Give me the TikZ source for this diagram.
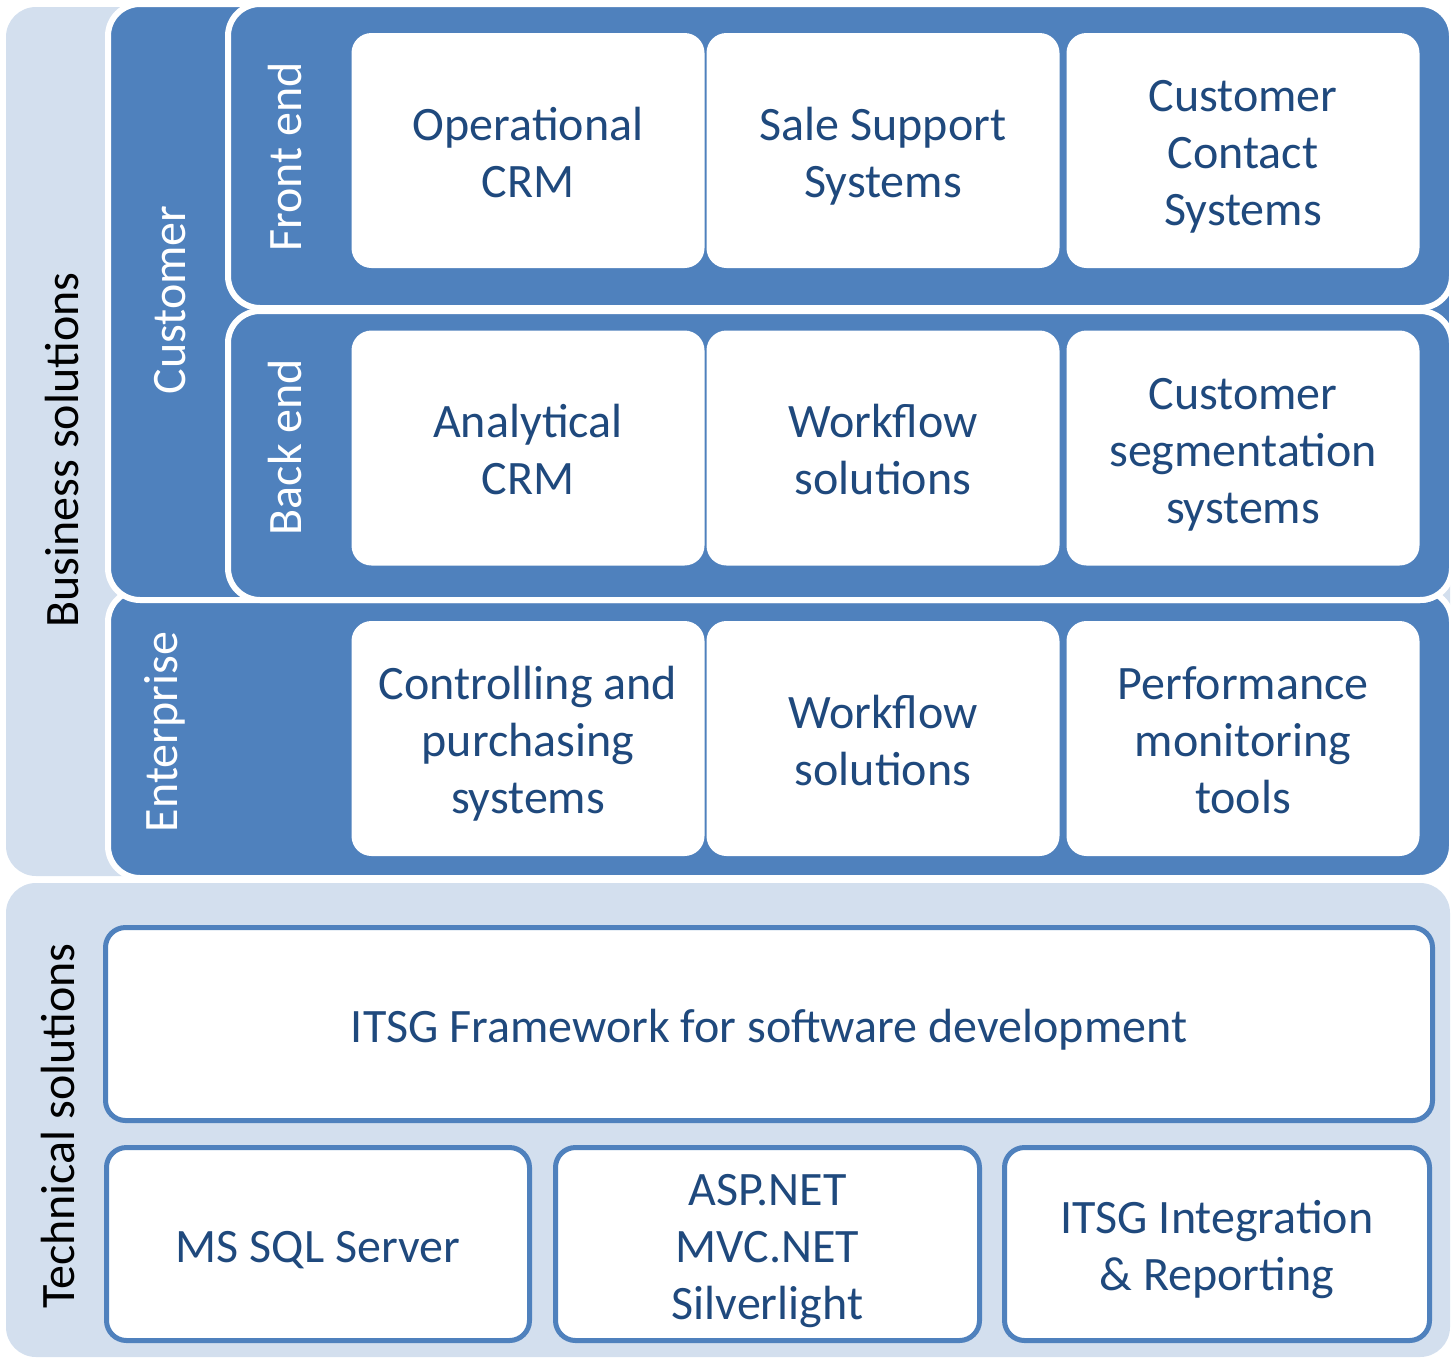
\documentclass[tikz,border=0pt]{standalone}
\usepackage{fontspec}
\setmainfont{Carlito}
\definecolor{pblue}{HTML}{4F81BD}
\definecolor{plight}{HTML}{D3DFEE}
\definecolor{tblue}{HTML}{1F497D}

\begin{document}
\begin{tikzpicture}[x=0.5pt, y=-0.5pt,
  big/.style={font=\fontsize{24pt}{28.5pt}\selectfont},
  back/.style={fill=plight, rounded corners=15pt},
  panel/.style={fill=pblue, draw=white, line width=3pt, rounded corners=16pt},
  cell/.style={fill=white, rounded corners=10pt,
    minimum width=176.5pt, minimum height=117.5pt,
    label={[big, align=center, text=tblue, yshift=-3.5pt]center:{\strut#1\strut}}},
  tech/.style={cell={#1}, draw=pblue, line width=2.5pt, minimum height=96.5pt},
  side/.style={big, rotate=90}]
\useasboundingbox (0,0) rectangle (1456,1360);
\fill[back] (6,7) rectangle (1450,876);
\fill[back] (6,883) rectangle (1450,1357);
\draw[panel] (108,590) rectangle (1452,878);
\draw[panel] (108,4) rectangle (1452,600);
\draw[panel] (228,311) rectangle (1452,600);
\draw[panel] (228,4) rectangle (1452,308);
\node[side] (nbs) at (62,450) {Business solutions};
\node[side] (nts) at (58,1126) {Technical solutions};
\node[side, text=white] (ncu) at (170,300) {Customer};
\node[side, text=white] (nfe) at (285,157) {Front end};
\node[side, text=white] (nbe) at (285,447) {Back end};
\node[side, text=white] (nen) at (165,732) {Enterprise};
\node[cell={Operational\\CRM}] (nop) at (528,150.5) {};
\node[cell={Sale Support\\Systems}] (nss) at (883,150.5) {};
\node[cell={Customer\\Contact\\Systems}] (ncc) at (1243,150.5) {};
\node[cell={Analytical\\CRM}] (nan) at (528,448) {};
\node[cell={Workflow\\solutions}] (nwf) at (883,448) {};
\node[cell={Customer\\segmentation\\systems}] (nsg) at (1243,448) {};
\node[cell={Controlling and\\purchasing\\systems}] (ncp) at (528,738.5) {};
\node[cell={Workflow\\solutions}] (nwe) at (883,738.5) {};
\node[cell={Performance\\monitoring\\tools}] (npm) at (1243,738.5) {};
\node[tech={ITSG Framework for software development}, minimum width=663.5pt] (nfw) at (769,1024) {};
\node[tech={MS SQL Server}, minimum width=211.5pt] (nsq) at (318,1244) {};
\node[tech={ASP.NET\\MVC.NET\\Silverlight}, minimum width=212pt] (nas) at (767.5,1244) {};
\node[tech={ITSG Integration\\\& Reporting}, minimum width=212.5pt] (nir) at (1217,1244) {};
\end{tikzpicture}
\end{document}
